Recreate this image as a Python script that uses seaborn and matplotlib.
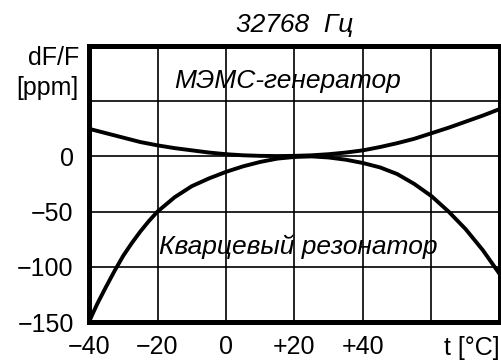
import numpy as np
import pandas as pd
import matplotlib
matplotlib.use('Agg')
import matplotlib.pyplot as plt
import seaborn as sns

# temperature, deg C
temp = [-40, -39, -37.5, -35, -32.5, -30, -27.5, -25, -22.5, -20, -15, -10, -5,
        0, 5, 10, 15, 20, 25, 30, 35, 40, 45, 50, 55, 60, 65, 70, 75, 80]
# frequency deviation, ppm
mems = [25, 24.2, 23, 21, 19, 17, 15, 13, 11.5, 10, 7.5, 5.5, 3.5,
        2, 1, 0.5, 0.3, 0.5, 1, 2, 3.5, 5.5, 8.5, 12, 16, 21, 26, 31.5, 37, 43]
quartz = [-150, -143, -133, -118, -103.5, -90, -78.5, -68, -58.5, -50, -37, -27, -20,
          -14, -9, -5, -2, -0.5, 0, -1, -3, -6, -10, -16, -25, -36, -50, -66, -85, -107]

xticks = [-40, -20, 0, 20, 40, 60, 80]
xlabels = ['\u221240', '\u221220', '0', '+20', '+40', '', '']
yticks = [-150, -100, -50, 0, 50, 100]
ylabels = ['\u2212150', '\u2212100', '\u221250', '0', '', '']

df = pd.DataFrame({'t': temp, 'mems': mems, 'quartz': quartz})

sns.set_style('white')
plt.rcParams['font.family'] = ['Liberation Sans', 'DejaVu Sans']
plt.rcParams['text.color'] = 'black'

fs = 19

fig = plt.figure(figsize=(5.02, 3.64), dpi=100)
ax = fig.add_axes([89 / 502, 1 - 322 / 364, 411 / 502, 276 / 364])

sns.lineplot(data=df, x='t', y='mems', color='black', linewidth=2.8, ax=ax)
sns.lineplot(data=df, x='t', y='quartz', color='black', linewidth=2.8, ax=ax)

ax.set_xlim(-40, 80)
ax.set_ylim(-150, 100)
ax.set_xticks(xticks)
ax.set_xticklabels(xlabels)
ax.set_yticks(yticks)
ax.set_yticklabels(ylabels)
ax.tick_params(length=0, labelsize=18, colors='black')
ax.tick_params(axis='x', pad=9)
ax.tick_params(axis='y', pad=11)
ax.grid(True, color='black', linewidth=1.2)
ax.set_axisbelow(True)
for s in ax.spines.values():
    s.set_visible(True)
    s.set_color('black')
    s.set_linewidth(3.6)
ax.set_xlabel('')
ax.set_ylabel('')

ax.set_title('32768  Гц', fontsize=fs, style='italic', pad=10, color='black')
ax.text(-15, 68, 'МЭМС-генератор', fontsize=fs, style='italic', va='center')
ax.text(-19.5, -82, 'Кварцевый резонатор', fontsize=fs, style='italic', va='center')
ax.text(1.0, -0.095, 't [°C]', transform=ax.transAxes, fontsize=18,
        ha='right', va='center')
fig.text(79 / 502, 1 - 58 / 364, 'dF/F', fontsize=18, ha='right', va='center')
fig.text(79 / 502, 1 - 88 / 364, '[ppm]', fontsize=18, ha='right', va='center')

fig.savefig('out.png', dpi=100)
